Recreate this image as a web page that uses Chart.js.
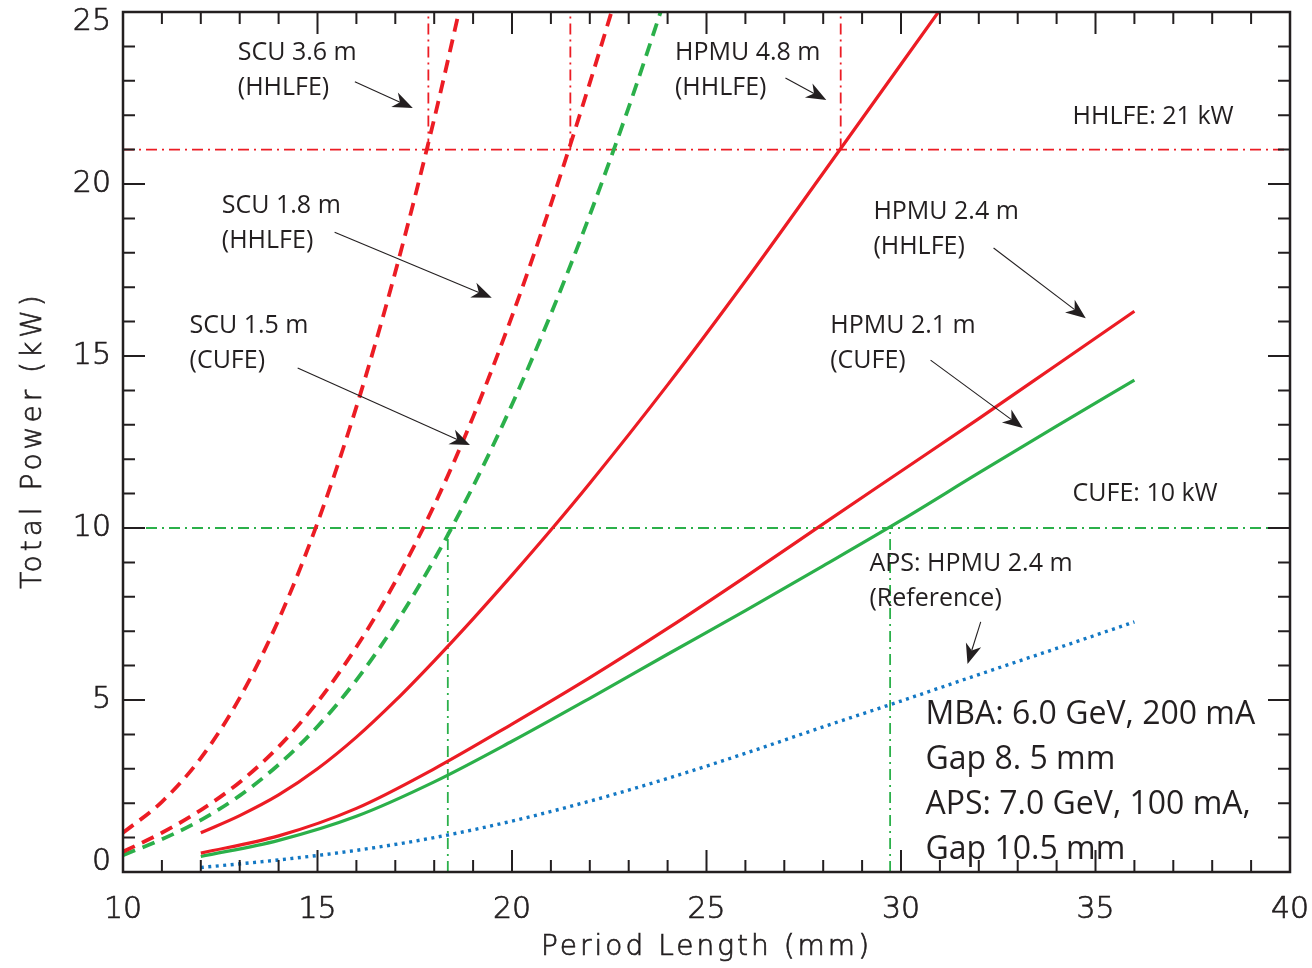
<!DOCTYPE html>
<html>
<head>
<meta charset="utf-8">
<script src="https://cdn.jsdelivr.net/npm/chart.js@4.4.1/dist/chart.umd.min.js"></script>
<style>
  html, body { margin: 0; padding: 0; background: #fff; }
  #wrap { width: 1312px; height: 968px; }
</style>
</head>
<body>
<div id="wrap"><canvas id="c" width="1312" height="968"></canvas></div>
<script>
// period length (mm) and total power (kW)
const scu36X = [10, 11, 12, 13, 14, 15, 16, 17, 18, 18.7]
const scu36Y = [1.14, 2.04, 3.31, 5.06, 7.33, 10.15, 13.52, 17.44, 21.89, 25.32]

const scu18X = [10, 11, 12, 13, 14, 15, 16, 17, 18, 19, 20, 21, 22, 22.6]
const scu18Y = [0.59, 1.14, 1.8, 2.61, 3.64, 4.94, 6.54, 8.44, 10.66, 13.23, 16.16, 19.41, 22.94, 25.16]

const scu15X = [10, 11, 12, 13, 14, 15, 16, 17, 18, 19, 20, 21, 22, 23, 24]
const scu15Y = [0.49, 0.95, 1.51, 2.22, 3.12, 4.23, 5.58, 7.2, 9.08, 11.21, 13.59, 16.22, 19.1, 22.23, 25.61]

const hpmu48X = [12, 13, 14, 15, 16, 17, 18, 19, 20, 21, 22, 24, 26, 28, 30, 31]
const hpmu48Y = [1.14, 1.64, 2.24, 3.0, 3.92, 4.98, 6.14, 7.36, 8.63, 9.94, 11.3, 14.16, 17.18, 20.32, 23.48, 25.06]

const hpmuX = [12, 14, 16, 18, 20, 22, 24, 26, 28, 30, 32, 34, 36]
const hpmu24Y = [0.55, 1.05, 1.85, 3.0, 4.3, 5.65, 7.08, 8.58, 10.12, 11.65, 13.18, 14.74, 16.3]
const hpmu21Y = [0.45, 0.92, 1.62, 2.62, 3.8, 5.05, 6.33, 7.6, 8.9, 10.22, 11.6, 12.96, 14.3]
const apsY = [0.13, 0.35, 0.63, 1.0, 1.48, 2.06, 2.72, 3.45, 4.22, 4.97, 5.74, 6.5, 7.27]

// front-end power limits and the periods where curves reach them
const hhlfeLimit = 21
const cufeLimit = 10
const hhlfeCross = [17.85, 21.5, 28.45]
const cufeCross = [18.35, 29.72]

const xTicks = [10, 15, 20, 25, 30, 35, 40]
const yTicks = [0, 5, 10, 15, 20, 25]

const RED = "#ec1c24"
const GREEN = "#2bb04a"
const BLUE = "#1378c4"
const INK = "#231f20"

function pts(xs, ys){ return xs.map((x, i) => ({x: x, y: ys[i]})) }

function curve(xs, ys, color, dash, width){
  return {
    data: pts(xs, ys), borderColor: color, borderWidth: width || 3.2,
    borderDash: dash || [], pointRadius: 0, cubicInterpolationMode: "monotone",
    fill: false
  }
}

function refLine(p, color){
  return { data: p, borderColor: color, borderWidth: 1.8, borderDash: [11, 5, 2, 5],
    pointRadius: 0, fill: false, tension: 0 }
}

const datasets = [
  curve(scu36X, scu36Y, RED, [13, 8], 3.8),
  curve(scu18X, scu18Y, RED, [13, 8], 3.8),
  curve(scu15X, scu15Y, GREEN, [13, 8], 3.8),
  curve(hpmu48X, hpmu48Y, RED),
  curve(hpmuX, hpmu24Y, RED),
  curve(hpmuX, hpmu21Y, GREEN),
  curve(hpmuX, apsY, BLUE, [3, 4.5], 3.4),
  refLine([{x: 10, y: hhlfeLimit}, {x: 40, y: hhlfeLimit}], RED),
  refLine([{x: 10, y: cufeLimit}, {x: 40, y: cufeLimit}], GREEN)
]
hhlfeCross.forEach(x => datasets.push(refLine([{x: x, y: hhlfeLimit}, {x: x, y: 25}], RED)))
cufeCross.forEach(x => datasets.push(refLine([{x: x, y: 0}, {x: x, y: cufeLimit}], GREEN)))

// labels: [text lines, left x, centre y of first line] in data units
const labels = [
  [["SCU 3.6 m", "(HHLFE)"], 12.95, 23.81],
  [["SCU 1.8 m", "(HHLFE)"], 12.54, 19.36],
  [["SCU 1.5 m", "(CUFE)"], 11.71, 15.87],
  [["HPMU 4.8 m", "(HHLFE)"], 24.19, 23.81],
  [["HPMU 2.4 m", "(HHLFE)"], 29.29, 19.19],
  [["HPMU 2.1 m", "(CUFE)"], 28.18, 15.87],
  [["APS: HPMU 2.4 m", "(Reference)"], 29.19, 8.95],
  [["HHLFE: 21 kW"], 34.41, 21.95],
  [["CUFE: 10 kW"], 34.41, 10.99]
]
const arrows = [
  [15.96, 22.97, 17.45, 22.21],
  [15.44, 18.6, 19.48, 16.69],
  [14.49, 14.65, 18.92, 12.41],
  [27.03, 23.08, 28.08, 22.44],
  [32.38, 18.14, 34.75, 16.10],
  [30.76, 14.88, 33.13, 12.91],
  [32.05, 7.27, 31.71, 6.05]
]
const note = ["MBA: 6.0 GeV, 200 mA", "Gap 8. 5 mm", "APS: 7.0 GeV, 100 mA,", "Gap 10.5 mm"]

// thin geometric face, stroked a little to get the weight of the original
function thinText(ctx, t, x, y){
  ctx.fillText(t, x, y)
  ctx.strokeText(t, x, y)
}

const decor = {
  id: "decor",
  afterDatasetsDraw(chart){
    const ctx = chart.ctx, a = chart.chartArea
    const xs = chart.scales.x, ys = chart.scales.y
    ctx.save()
    // frame with inward ticks on all sides
    ctx.strokeStyle = INK
    ctx.lineWidth = 2.5
    ctx.strokeRect(a.left, a.top, a.right - a.left, a.bottom - a.top)
    ctx.lineWidth = 2
    ctx.beginPath()
    for (let v = 10; v <= 40; v++){
      const px = xs.getPixelForValue(v), len = v % 5 === 0 ? 22 : 12
      ctx.moveTo(px, a.bottom); ctx.lineTo(px, a.bottom - len)
      ctx.moveTo(px, a.top); ctx.lineTo(px, a.top + len)
    }
    for (let v = 0; v <= 25; v++){
      const py = ys.getPixelForValue(v), len = v % 5 === 0 ? 22 : 12
      ctx.moveTo(a.left, py); ctx.lineTo(a.left + len, py)
      ctx.moveTo(a.right, py); ctx.lineTo(a.right - len, py)
    }
    ctx.stroke()

    // tick labels; y labels kept inside the figure at both ends
    ctx.fillStyle = INK
    ctx.lineWidth = 0.7
    ctx.font = "200 30px 'DejaVu Sans'"
    ctx.textBaseline = "middle"
    ctx.textAlign = "right"
    yTicks.forEach(v => {
      const py = Math.min(Math.max(ys.getPixelForValue(v), 22), 862)
      thinText(ctx, String(v), a.left - 12, py)
    })
    ctx.textAlign = "center"
    xTicks.forEach(v => thinText(ctx, String(v), xs.getPixelForValue(v), a.bottom + 38))

    // axis titles
    ctx.font = "200 28px 'DejaVu Sans'"
    ctx.letterSpacing = "3px"
    thinText(ctx, "Period Length (mm)", (a.left + a.right) / 2, 948)
    ctx.save()
    ctx.letterSpacing = "4px"
    ctx.translate(34, 440)
    ctx.rotate(-Math.PI / 2)
    thinText(ctx, "Total Power (kW)", 0, 0)
    ctx.restore()
    ctx.letterSpacing = "0px"

    // arrows
    ctx.lineWidth = 1.1
    arrows.forEach(r => {
      const x0 = xs.getPixelForValue(r[0]), y0 = ys.getPixelForValue(r[1])
      const x1 = xs.getPixelForValue(r[2]), y1 = ys.getPixelForValue(r[3])
      const ang = Math.atan2(y1 - y0, x1 - x0)
      const L = 20, W = 8
      const bx = x1 - L * Math.cos(ang), by = y1 - L * Math.sin(ang)
      const nx = x1 - 0.7 * L * Math.cos(ang), ny = y1 - 0.7 * L * Math.sin(ang)
      ctx.beginPath(); ctx.moveTo(x0, y0); ctx.lineTo(nx, ny); ctx.stroke()
      ctx.beginPath()
      ctx.moveTo(x1, y1)
      ctx.lineTo(bx - W * Math.sin(ang), by + W * Math.cos(ang))
      ctx.lineTo(nx, ny)
      ctx.lineTo(bx + W * Math.sin(ang), by - W * Math.cos(ang))
      ctx.closePath(); ctx.fill()
    })

    // text labels
    ctx.textAlign = "left"
    ctx.font = "25px 'Open Sans'"
    labels.forEach(l => {
      const x = xs.getPixelForValue(l[1]), y = ys.getPixelForValue(l[2])
      l[0].forEach((t, i) => ctx.fillText(t, x, y + i * 35))
    })
    ctx.font = "32px 'Open Sans'"
    const nx0 = xs.getPixelForValue(30.63), ny0 = ys.getPixelForValue(4.56)
    note.forEach((t, i) => ctx.fillText(t, nx0, ny0 + i * 45))
    ctx.restore()
  }
}

function fixBox(size){
  return s => {
    if (s.isHorizontal()) s.height = size; else s.width = size
    s.paddingLeft = 0; s.paddingRight = 0; s.paddingTop = 0; s.paddingBottom = 0
  }
}

new Chart(document.getElementById("c"), {
  type: "line",
  data: { datasets: datasets },
  options: {
    responsive: false,
    animation: false,
    devicePixelRatio: 1,
    layout: { padding: { left: 0, top: 12, right: 22, bottom: 0 } },
    plugins: { legend: { display: false }, tooltip: { enabled: false } },
    scales: {
      x: {
        type: "linear", min: 10, max: 40,
        afterBuildTicks: s => { s.ticks = xTicks.map(v => ({value: v})) },
        afterFit: fixBox(96),
        grid: { display: false, drawTicks: false },
        border: { display: false },
        ticks: { display: false }
      },
      y: {
        type: "linear", min: 0, max: 25,
        afterBuildTicks: s => { s.ticks = yTicks.map(v => ({value: v})) },
        afterFit: fixBox(123),
        grid: { display: false, drawTicks: false },
        border: { display: false },
        ticks: { display: false }
      }
    }
  },
  plugins: [decor]
})
</script>
</body>
</html>
